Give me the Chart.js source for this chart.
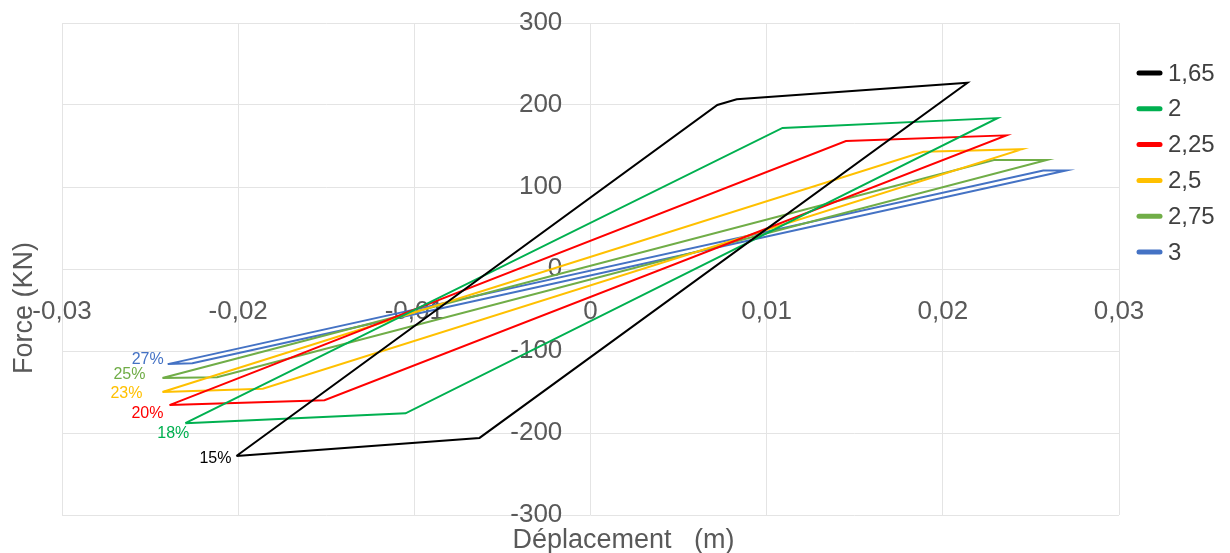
<!DOCTYPE html>
<html>
<head>
<meta charset="utf-8">
<script src="https://cdn.jsdelivr.net/npm/chart.js@4/dist/chart.umd.min.js"></script>
<style>
  html, body { margin: 0; padding: 0; background: #ffffff; }
  #wrap { width: 1230px; height: 553px; }
</style>
</head>
<body>
<div id="wrap"><canvas id="chart" width="1230" height="553"></canvas></div>
<script>
// Hysteresis loops: displacement (m) vs force (kN), one closed loop per ratio
const seriesNames = ['1,65', '2', '2,25', '2,5', '2,75', '3'];
const dropLabels  = ['15%', '18%', '20%', '23%', '25%', '27%'];

const disp165  = [-0.0201, 0.0072, 0.0083, 0.0214, -0.0063, -0.0201];
const force165 = [-228, 200, 207, 227, -206, -228];

const disp2  = [-0.0230, 0.0109, 0.0231, -0.0105, -0.0230];
const force2 = [-188, 172, 184, -176, -188];

const disp225  = [-0.0239, 0.0145, 0.0236, -0.0151, -0.0239];
const force225 = [-166, 156, 163, -160, -166];

const disp25  = [-0.0243, 0.0189, 0.0245, -0.0186, -0.0243];
const force25 = [-150, 143, 146, -146, -150];

const disp275  = [-0.0243, 0.0229, 0.0259, -0.0212, -0.0243];
const force275 = [-133, 133, 133, -132, -133];

const disp3  = [-0.0240, 0.0257, 0.0270, -0.0226, -0.0240];
const force3 = [-116, 120, 120, -115, -116];

const xTicks = [-0.03, -0.02, -0.01, 0, 0.01, 0.02, 0.03];
const yTicks = [-300, -200, -100, 0, 100, 200, 300];

// styling
const colors = ['#000000', '#00B050', '#FF0000', '#FFC000', '#70AD47', '#4472C4'];
const labelOffsets = [[-5, 3], [4, 10], [-6, 8], [-20, 2], [-17, -3], [-4, -5]];
const FONT = "'Liberation Sans', Arial, sans-serif";
const GREY = '#595959';
const GRID = '#e4e4e4';
// the force labels sit a little left of the zero-displacement line
const yLabelAnchor = -0.0016;

const xs = [disp165, disp2, disp225, disp25, disp275, disp3];
const ys = [force165, force2, force225, force25, force275, force3];

const datasets = seriesNames.map((name, i) => ({
  label: name,
  data: xs[i].map((x, k) => ({ x: x, y: ys[i][k] })),
  borderColor: colors[i],
  backgroundColor: colors[i],
  borderWidth: 2,
  showLine: true,
  pointRadius: 0,
  tension: 0,
  fill: false
}));

const fmt = v => {
  const r = Math.round(v * 100) / 100;
  if (r === 0) return '0';
  return r.toFixed(2).replace('.', ',');
};

// tick labels may overhang the plot edges; keep the plot area fixed by the layout padding
const noOverhang = scale => {
  scale.paddingTop = 0;
  scale.paddingBottom = 0;
  scale.paddingLeft = 0;
  scale.paddingRight = 0;
};

// axis titles, drawn outside the plot area
const axisTitles = {
  id: 'axisTitles',
  afterDraw(chart) {
    const { ctx, chartArea } = chart;
    ctx.save();
    ctx.fillStyle = GREY;
    ctx.font = '27px ' + FONT;
    ctx.textAlign = 'center';
    ctx.textBaseline = 'middle';
    ctx.translate(chartArea.left - 37, (chartArea.top + chartArea.bottom) / 2 + 39);
    ctx.rotate(-Math.PI / 2);
    ctx.fillText('Force (KN)', 0, 0);
    ctx.restore();

    ctx.save();
    ctx.fillStyle = GREY;
    ctx.font = '27px ' + FONT;
    ctx.textAlign = 'center';
    ctx.textBaseline = 'middle';
    ctx.fillText('Déplacement   (m)', (chartArea.left + chartArea.right) / 2 + 33, chartArea.bottom + 26);
    ctx.restore();
  }
};

// percentage labels next to the lower-left vertex of each loop
const loopLabels = {
  id: 'loopLabels',
  afterDatasetsDraw(chart) {
    const { ctx } = chart;
    ctx.save();
    ctx.font = '16px ' + FONT;
    ctx.textAlign = 'right';
    ctx.textBaseline = 'middle';
    chart.data.datasets.forEach((ds, i) => {
      const meta = chart.getDatasetMeta(i);
      const pt = meta.data[0];
      ctx.fillStyle = colors[i];
      ctx.fillText(dropLabels[i], pt.x + labelOffsets[i][0], pt.y + labelOffsets[i][1]);
    });
    ctx.restore();
  }
};

// legend on the right side
const sideLegend = {
  id: 'sideLegend',
  afterDraw(chart) {
    const { ctx, chartArea } = chart;
    const x0 = chartArea.right + 18;
    const y0 = chartArea.top + 50;
    const step = 35.8;
    ctx.save();
    ctx.font = '24px ' + FONT;
    ctx.textBaseline = 'middle';
    ctx.textAlign = 'left';
    chart.data.datasets.forEach((ds, i) => {
      const y = y0 + i * step;
      ctx.strokeStyle = ds.borderColor;
      ctx.lineWidth = 5;
      ctx.lineCap = 'round';
      ctx.beginPath();
      ctx.moveTo(x0 + 2, y);
      ctx.lineTo(x0 + 23, y);
      ctx.stroke();
      ctx.fillStyle = '#404040';
      ctx.fillText(ds.label, x0 + 31, y + 1);
    });
    ctx.restore();
  }
};

new Chart(document.getElementById('chart'), {
  type: 'scatter',
  data: { datasets: datasets },
  plugins: [axisTitles, loopLabels, sideLegend],
  options: {
    responsive: false,
    animation: false,
    layout: { padding: { left: 62, right: 111, top: 23, bottom: 38 } },
    plugins: {
      legend: { display: false },
      tooltip: { enabled: false }
    },
    scales: {
      x: {
        type: 'linear',
        position: { y: 0 },
        min: xTicks[0],
        max: xTicks[xTicks.length - 1],
        afterBuildTicks: axis => { axis.ticks = xTicks.map(v => ({ value: v })); },
        afterFit: noOverhang,
        ticks: {
          callback: v => fmt(v),
          color: GREY,
          font: { family: FONT, size: 26 },
          padding: 27,
          maxRotation: 0,
          autoSkip: false
        },
        grid: { color: GRID, drawTicks: false },
        border: { display: false }
      },
      y: {
        type: 'linear',
        position: { x: yLabelAnchor },
        min: yTicks[0],
        max: yTicks[yTicks.length - 1],
        afterBuildTicks: axis => { axis.ticks = yTicks.map(v => ({ value: v })); },
        afterFit: noOverhang,
        ticks: {
          callback: v => String(v),
          color: GREY,
          font: { family: FONT, size: 26 },
          autoSkip: false
        },
        grid: { color: GRID, drawTicks: false },
        border: { display: false }
      }
    }
  }
});
</script>
</body>
</html>
